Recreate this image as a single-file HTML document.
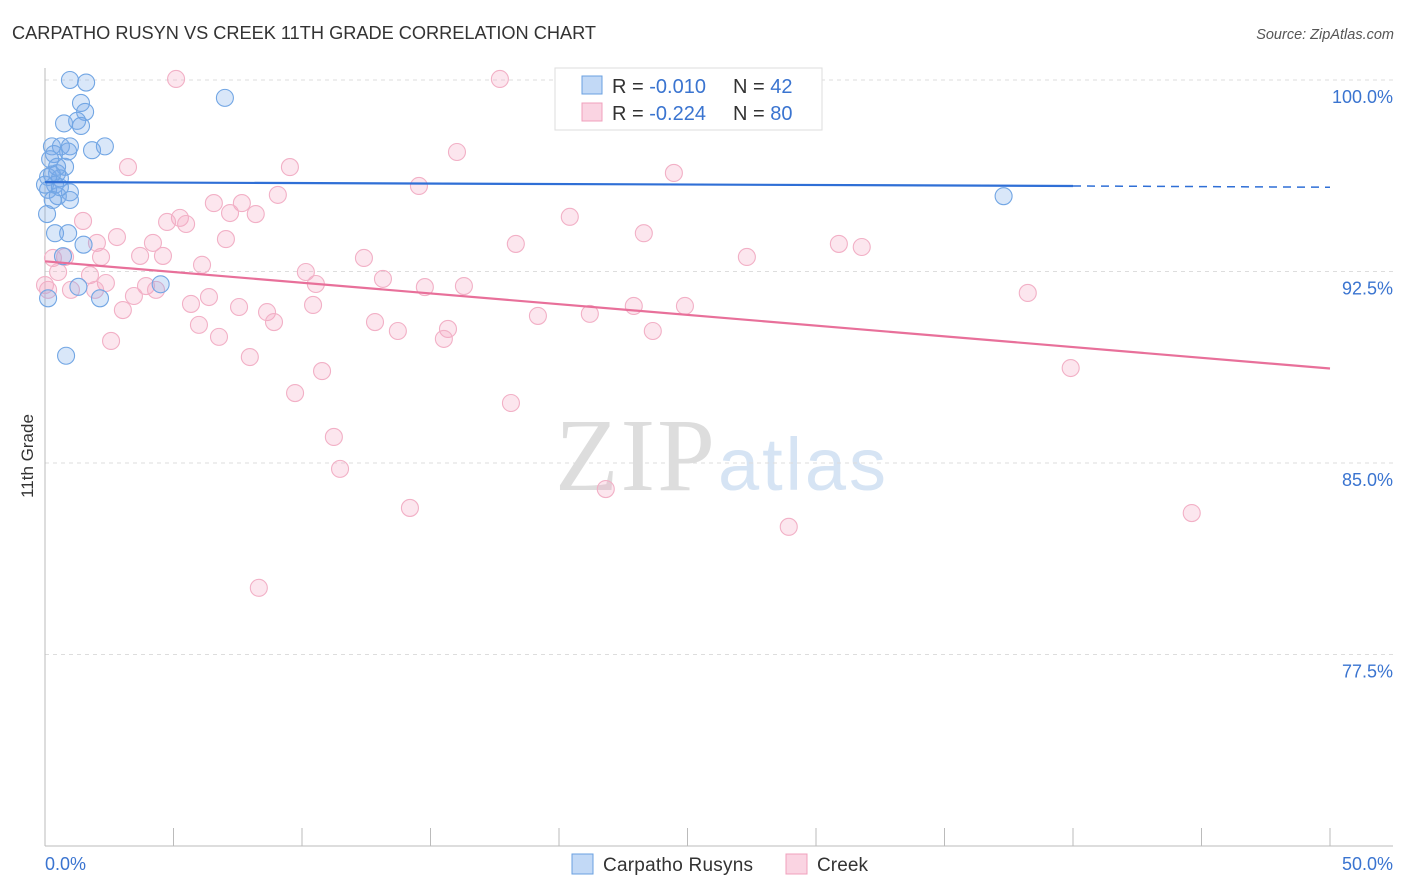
<!DOCTYPE html>
<html><head><meta charset="utf-8"><style>
body{margin:0;background:#fff;font-family:"Liberation Sans",sans-serif;}
svg{display:block}
</style></head><body>
<svg id="chart" width="1406" height="892">
<text x="12" y="39" font-size="18.2" fill="#333" textLength="584">CARPATHO RUSYN VS CREEK 11TH GRADE CORRELATION CHART</text>
<text x="1394" y="39" font-size="14.5" fill="#555" text-anchor="end" font-style="italic">Source: ZipAtlas.com</text>
<g><text x="635" y="490" font-size="104" fill="#ddd" font-family="Liberation Serif,serif" text-anchor="middle" textLength="160">ZIP</text><text x="802" y="490" font-size="74" fill="#d6e4f4" text-anchor="middle" textLength="168">atlas</text></g>
<g id="grid"></g><g id="axes"></g><g id="marks"></g>
<text transform="translate(33,456) rotate(-90)" font-size="17" fill="#333" text-anchor="middle">11th Grade</text>
<g>
<rect x="555" y="68" width="267" height="62" fill="#fff" stroke="#ddd"/>
<rect x="582" y="76" width="20" height="18" fill="rgba(120,170,235,0.45)" stroke="#6aa0e0"/>
<rect x="582" y="103" width="20" height="18" fill="rgba(245,160,190,0.45)" stroke="#f0a0bc"/>
<text x="612" y="93" font-size="20" fill="#333">R = <tspan fill="#3a74d0">-0.010</tspan></text>
<text x="733" y="93" font-size="20" fill="#333">N = <tspan fill="#3a74d0">42</tspan></text>
<text x="612" y="120" font-size="20" fill="#333">R = <tspan fill="#3a74d0">-0.224</tspan></text>
<text x="733" y="120" font-size="20" fill="#333">N = <tspan fill="#3a74d0">80</tspan></text>
</g>
<g>
<rect x="572" y="854" width="21" height="20" fill="rgba(120,170,235,0.45)" stroke="#6aa0e0"/>
<text x="603" y="871" font-size="19" fill="#333" textLength="150">Carpatho Rusyns</text>
<rect x="786" y="854" width="21" height="20" fill="rgba(245,160,190,0.45)" stroke="#f0a0bc"/>
<text x="817" y="871" font-size="19" fill="#333" textLength="51">Creek</text>
</g>
</svg>
<script>
const yTicks=[100,92.5,85,77.5];
const yTickLabels=["100.0%","92.5%","85.0%","77.5%"];
const xTicks=[0,5,10,15,20,25,30,35,40,45,50];
const xTickLabels=["0.0%","50.0%"];
const blueX=[0.97,1.6,7.0,1.4,1.56,0.74,1.25,1.4,0.27,0.62,0.97,0.9,1.83,2.33,0.35,0.2,0.78,0.47,0.12,0.58,0.39,0.12,0.97,0.5,0.3,0.97,0.08,0.39,0.9,1.5,0.7,1.3,4.5,0.12,2.14,0.82,37.3,0.47,0,0.27,0.58];
const blueY=[100.0,99.9,99.3,99.1,98.75,98.3,98.4,98.2,97.4,97.4,97.4,97.2,97.25,97.4,97.1,96.9,96.6,96.35,96.2,96.15,95.9,95.7,95.6,95.45,95.3,95.3,94.75,94.0,94.0,93.55,93.1,91.9,92.0,91.45,91.45,89.2,95.45,96.6,95.9,96.3,95.8];
const pinkX=[5.1,17.7,3.23,9.53,16.03,24.47,14.55,9.06,6.57,7.66,7.2,8.2,5.25,4.75,5.49,1.48,20.42,23.3,2.8,7.04,4.2,2.02,18.32,30.89,31.78,0.31,0.78,2.18,3.7,4.59,27.31,12.41,6.11,10.15,1.75,0.51,13.15,2.37,3.93,4.32,10.54,14.78,16.3,1.01,3.46,6.38,5.68,7.55,10.43,22.91,24.9,3.03,8.64,19.18,21.2,8.91,5.99,12.84,13.73,15.68,15.52,23.65,6.77,2.57,7.97,10.78,39.91,9.73,18.13,11.24,38.24,11.48,21.82,14.2,28.94,44.62,8.32,0.12,0,1.95];
const pinkY=[100.04,100.04,96.59,96.59,97.18,96.36,95.85,95.5,95.18,95.18,94.79,94.75,94.6,94.44,94.36,94.48,94.64,94.0,93.85,93.77,93.62,93.62,93.58,93.58,93.46,93.03,93.07,93.07,93.11,93.11,93.07,93.03,92.76,92.48,92.36,92.48,92.21,92.05,91.93,91.78,92.01,91.89,91.93,91.78,91.54,91.5,91.23,91.11,91.19,91.15,91.15,90.99,90.91,90.76,90.84,90.52,90.41,90.52,90.17,90.25,89.86,90.17,89.94,89.78,89.15,88.6,88.72,87.74,87.35,86.02,91.66,84.77,83.98,83.24,82.5,83.04,80.11,91.78,91.97,91.78];
const blueTrend=[96.0,95.85,95.8];
const pinkTrend=[92.9,88.7];
const X=v=>45+v/50*1285;
const Y=v=>80+(100-v)/7.5*191.5;
const NS="http://www.w3.org/2000/svg";
function mk(tag,attrs,parent){const e=document.createElementNS(NS,tag);for(const k in attrs)e.setAttribute(k,attrs[k]);document.getElementById(parent).appendChild(e);return e;}
yTicks.forEach((t,i)=>{
 const l=mk('line',{x1:45,x2:1393,y1:Y(t),y2:Y(t),stroke:'#ddd','stroke-dasharray':'4,4'},'grid');
 
 
 const tx=mk('text',{x:1393,y:Y(t)+23,'font-size':18,fill:'#3a74d0','text-anchor':'end'},'grid');
 tx.textContent=yTickLabels[i];
 
 
});
let ax=mk('line',{x1:45,x2:45,y1:68,y2:Y(70),stroke:'#bbb'},'axes');


ax=mk('line',{x1:45,x2:1393,y1:Y(70),y2:Y(70),stroke:'#bbb'},'axes');


xTicks.forEach(t=>{const l=mk('line',{x1:X(t),x2:X(t),y1:Y(70)-18,y2:Y(70),stroke:'#bbb'},'axes');
 
 });
[[0,'start',45],[50,'end',1393]].forEach((d,i)=>{const tx=mk('text',{x:d[2],y:870,'font-size':18,fill:'#3a74d0','text-anchor':d[1]},'axes');tx.textContent=xTickLabels[i];
 
 });
pinkX.forEach((x,i)=>{const c=mk('circle',{cx:X(x),cy:Y(pinkY[i]),r:8.5,fill:'rgba(245,165,195,0.28)',stroke:'#f2b0c6','stroke-width':1.1},'marks');
 
 });
blueX.forEach((x,i)=>{const c=mk('circle',{cx:X(x),cy:Y(blueY[i]),r:8.5,fill:'rgba(120,170,235,0.28)',stroke:'#72a6e4','stroke-width':1.1},'marks');
 
 });
let tl=mk('line',{x1:X(0),y1:Y(blueTrend[0]),x2:X(40),y2:Y(blueTrend[1]),stroke:'#2f6fd6','stroke-width':2.2},'marks');


tl=mk('line',{x1:X(40),y1:Y(blueTrend[1]),x2:X(50),y2:Y(blueTrend[2]),stroke:'#2f6fd6','stroke-width':1.5,'stroke-dasharray':'8,6'},'marks');


tl=mk('line',{x1:X(0),y1:Y(pinkTrend[0]),x2:X(50),y2:Y(pinkTrend[1]),stroke:'#e8709a','stroke-width':2.2},'marks');


</script>
</body></html>
